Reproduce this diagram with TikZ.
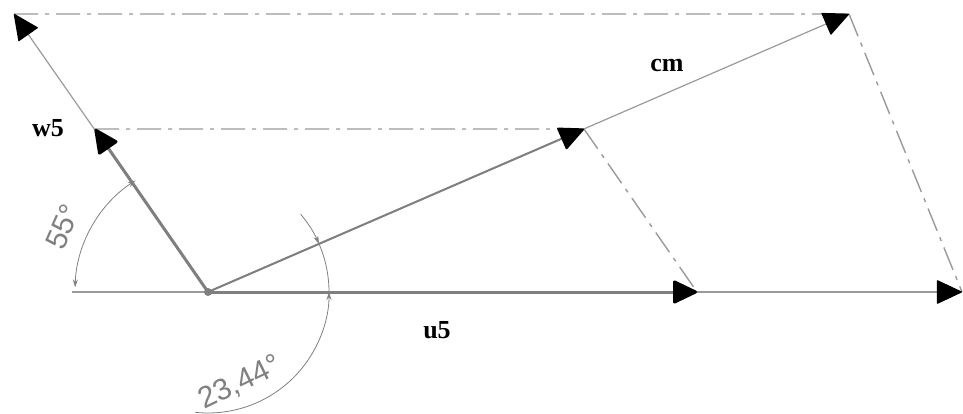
\documentclass[tikz,border=0pt]{standalone}
\usepackage{fontspec}
\setmainfont{Liberation Serif}
\setsansfont{Liberation Sans}
\usetikzlibrary{arrows.meta,calc}
\definecolor{vecgray}{HTML}{7F7F7F}
\definecolor{linegray}{HTML}{9A9A9A}
\definecolor{dimgray}{HTML}{808080}
\tikzset{>={Triangle[length=13pt,width=12pt,round,black]},
  every node/.style={font=\bfseries\fontsize{13}{15}\selectfont},
  vec/.style={->,draw=vecgray,line width=1.5pt},
  thinvec/.style={->,draw=linegray,line width=.6pt},
  guide/.style={draw=linegray,line width=.7pt,dash pattern=on 12pt off 3.5pt on 2pt off 3.5pt},
  dimarc/.style={draw=dimgray,line width=.4pt,-{Stealth[length=4pt,width=2.5pt]}},
  anglbl/.style={font=\sffamily\fontsize{15}{17}\selectfont,text=dimgray}}

\begin{document}
\begin{tikzpicture}[x=.5pt,y=.5pt]
\useasboundingbox (0,0) rectangle (963,413);
\coordinate (O) at (208,121);
\coordinate (L) at (72,121);
\coordinate (W5) at (95,284);
\coordinate (W) at (14,399);
\coordinate (U5) at (697,121);
\coordinate (U) at (962,121);
\coordinate (C5) at (584,284);
\coordinate (C) at (849,399);
% construction lines
\draw[guide] (W)--(C) (C)--(U);
\draw[guide] (W5)--(C5) (C5)--(U5);
% long vectors
\draw[draw=linegray,line width=.6pt] (L)--(O);
\draw[thinvec] (O)--(U);
\draw[thinvec] (O)--(W);
\draw[thinvec] (O)--(C);
% components
\draw[vec] (O)--(U5);
\draw[vec] (O)--(W5);
\draw[vec,line width=1pt] (O)--(C5);
\fill[vecgray] (O) circle(2pt);
% angles
\draw[dimarc,{Stealth[length=4pt,width=2.5pt]}-{Stealth[length=4pt,width=2.5pt]}] ($(O)+(178:133)$) arc[start angle=178,end angle=123,radius=133];
\draw[dimarc] ($(O)+(40:121)$) arc[start angle=40,end angle=23.44,radius=121];
\draw[dimarc,-] ($(O)+(23.44:121)$) arc[start angle=23.44,end angle=0,radius=121];
\draw[dimarc] ($(O)+(-96:121)$) arc[start angle=-96,end angle=0,radius=121];
\node (w5lbl) at (48,285) {w5};
\node (cmlbl) at (667,348) {cm};
\node (u5lbl) at (437,83) {u5};
\node[anglbl,rotate=66] (a55) at (63,186) {55°};
\node[anglbl,rotate=26] (a2344) at (240,30) {23,44°};
\end{tikzpicture}
\end{document}
